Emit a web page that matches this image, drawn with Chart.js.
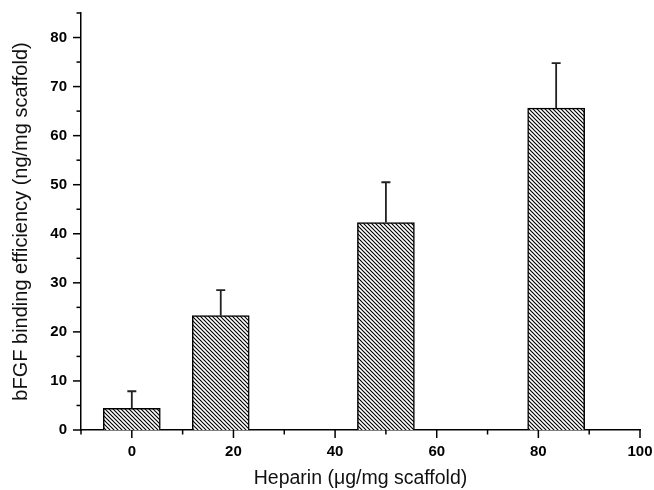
<!DOCTYPE html>
<html>
<head>
<meta charset="utf-8">
<script src="https://cdn.jsdelivr.net/npm/chart.js@4"></script>
<style>
  html, body { margin: 0; padding: 0; background: #fff; }
  #wrap { width: 654px; height: 490px; position: relative; }
</style>
</head>
<body>
<div id="wrap"><canvas id="c"></canvas></div>
<script>
// ---- data ----
const heparin = [0, 17.5, 50, 83.5];          // x positions (µg/mg scaffold)
const binding = [4.4, 23.3, 42.3, 65.6];      // bar heights (ng/mg scaffold)
const errorUp = [3.5, 5.2, 8.2, 9.2];         // upper error
const xTicks = [0, 20, 40, 60, 80, 100];
const xMinor = [-10, 10, 30, 50, 70, 90];
const yTicks = [0, 10, 20, 30, 40, 50, 60, 70, 80];
const yMinor = [5, 15, 25, 35, 45, 55, 65, 75, 85];

// hatch pattern "\\\\"
function makeHatch() {
  const s = 4;
  const c = document.createElement('canvas');
  c.width = s; c.height = s;
  const g = c.getContext('2d');
  g.fillStyle = '#fff';
  g.fillRect(0, 0, s, s);
  g.strokeStyle = '#000';
  g.lineWidth = 1.15;
  for (const k of [-s, 0, s]) {
    g.beginPath();
    g.moveTo(k - 1, -1);
    g.lineTo(k + s + 1, s + 1);
    g.stroke();
  }
  return g.createPattern(c, 'repeat');
}

const tickPlugin = {
  id: 'ticksAndErrors',
  afterDraw(chart) {
    const ctx = chart.ctx;
    const xs = chart.scales.x, ys = chart.scales.y;
    ctx.save();
    ctx.strokeStyle = '#000';
    ctx.lineWidth = 1.5;
    const y0 = ys.getPixelForValue(0);
    const x0 = xs.left;
    // x ticks
    xTicks.forEach(v => { const p = xs.getPixelForValue(v); ctx.beginPath(); ctx.moveTo(p, y0); ctx.lineTo(p, y0 + 8); ctx.stroke(); });
    xMinor.forEach(v => { const p = xs.getPixelForValue(v); ctx.beginPath(); ctx.moveTo(p, y0); ctx.lineTo(p, y0 + 4.5); ctx.stroke(); });
    // y ticks
    yTicks.forEach(v => { const p = ys.getPixelForValue(v); ctx.beginPath(); ctx.moveTo(x0, p); ctx.lineTo(x0 - 8, p); ctx.stroke(); });
    yMinor.forEach(v => { const p = ys.getPixelForValue(v); ctx.beginPath(); ctx.moveTo(x0, p); ctx.lineTo(x0 - 4.5, p); ctx.stroke(); });
    // error bars
    ctx.strokeStyle = '#222';
    ctx.lineWidth = 1.8;
    const meta = chart.getDatasetMeta(0);
    meta.data.forEach((bar, i) => {
      const px = bar.x;
      const top = ys.getPixelForValue(binding[i]);
      const e = ys.getPixelForValue(binding[i] + errorUp[i]);
      ctx.beginPath();
      ctx.moveTo(px, top); ctx.lineTo(px, e);
      ctx.moveTo(px - 4.5, e); ctx.lineTo(px + 4.5, e);
      ctx.stroke();
    });
    ctx.restore();
  }
};

new Chart(document.getElementById('c'), {
  type: 'bar',
  data: {
    datasets: [{
      data: heparin.map((x, i) => ({ x: x, y: binding[i] })),
      backgroundColor: makeHatch(),
      borderColor: '#000',
      borderWidth: 1.5,
      borderSkipped: 'start',
      barThickness: 57
    }]
  },
  options: {
    responsive: true,
    maintainAspectRatio: false,
    animation: false,
    events: [],
    layout: { padding: { top: 13, right: 14, left: 0, bottom: 0 } },
    plugins: { legend: { display: false }, tooltip: { enabled: false } },
    scales: {
      x: {
        type: 'linear',
        offset: false,
        min: -10, max: 100,
        afterBuildTicks: s => { s.ticks = xTicks.map(v => ({ value: v })); },
        afterFit: s => { s.height = 60; s.paddingLeft = 0; s.paddingRight = 0; },
        ticks: { font: { family: 'Liberation Sans', size: 15, weight: 'bold' }, color: '#000', padding: 13, maxRotation: 0, autoSkip: false },
        grid: { display: false, drawTicks: false, offset: false },
        border: { display: true, color: '#000', width: 1.5 },
        title: { display: true, text: 'Heparin (\u03bcg/mg scaffold)', font: { family: 'Liberation Sans', size: 19.5 }, color: '#111', padding: { top: 0, bottom: 0 } }
      },
      y: {
        type: 'linear',
        min: 0, max: 85,
        afterBuildTicks: s => { s.ticks = yTicks.map(v => ({ value: v })); },
        afterFit: s => { s.width = 81; s.paddingTop = 0; s.paddingBottom = 0; },
        ticks: { font: { family: 'Liberation Sans', size: 15, weight: 'bold' }, color: '#000', padding: 14, autoSkip: false },
        grid: { display: false, drawTicks: false },
        border: { display: true, color: '#000', width: 1.5 },
        title: { display: true, text: 'bFGF binding efficiency (ng/mg scaffold)', font: { family: 'Liberation Sans', size: 20 }, color: '#111', padding: { top: 9, bottom: 0 } }
      }
    }
  },
  plugins: [tickPlugin]
});
</script>
</body>
</html>
